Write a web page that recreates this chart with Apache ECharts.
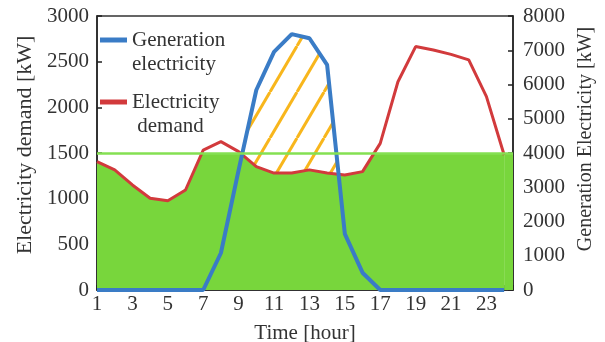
<!DOCTYPE html>
<html>
<head>
<meta charset="utf-8">
<script src="https://cdn.jsdelivr.net/npm/echarts@6/dist/echarts.min.js"></script>
<style>
  html, body { margin: 0; padding: 0; background: #fff; }
  #chart { width: 605px; height: 342px; }
</style>
</head>
<body>
<div id="chart"></div>
<script>
// hours 1..24
const hours = [1, 2, 3, 4, 5, 6, 7, 8, 9, 10, 11, 12, 13, 14, 15, 16, 17, 18, 19, 20, 21, 22, 23, 24]
// electricity demand, left axis [kW]
const demand = [1405, 1315, 1150, 1005, 978, 1095, 1532, 1625, 1515, 1350, 1280, 1280,
  1315, 1280, 1260, 1296, 1605, 2280, 2665, 2628, 2580, 2520, 2117, 1478]
// generation electricity, right axis [kW]
const generation = [0, 0, 0, 0, 0, 0, 0, 1080, 3500, 5840, 6950, 7470,
  7350, 6570, 1640, 505, 0, 0, 0, 0, 0, 0, 0, 0]
// contracted level drawn as the green line
const threshold = 1500
const xMax = 24.5

const FONT = "'Liberation Serif', 'Times New Roman', serif"
const GREEN = '#78d63c'
const RED = '#d23a3c'
const BLUE = '#3a7cc6'

// diagonal orange hatch pattern
function hatchCanvas() {
  const w = 27, h = 46
  const c = document.createElement('canvas')
  c.width = w
  c.height = h
  const ctx = c.getContext('2d')
  ctx.strokeStyle = '#f8b61c'
  ctx.lineWidth = 3
  for (let k = -1; k <= 1; k++) {
    ctx.beginPath()
    ctx.moveTo(k * w, h)
    ctx.lineTo(k * w + w, 0)
    ctx.stroke()
  }
  return c
}

const pairs = (ys) => hours.map((h, i) => [h, ys[i]])

// area under demand: green below the threshold, white above it
const maxDemand = Math.max(...demand)
const cut = (maxDemand - threshold) / maxDemand
const demandFill = new echarts.graphic.LinearGradient(0, 0, 0, 1, [
  {offset: 0, color: '#fff'},
  {offset: cut, color: '#fff'},
  {offset: cut, color: GREEN},
  {offset: 1, color: GREEN}
])

const labelStyle = {color: '#333', fontFamily: FONT, fontSize: 21}
const legendText = {color: '#333', fontFamily: FONT, fontSize: 21, lineHeight: 24}

let myChart = echarts.init(document.getElementById('chart'))
myChart.setOption({
  animation: false,
  grid: {
    left: 97,
    right: 92,
    top: 16,
    bottom: 52,
    outerBoundsMode: 'none',
    containLabel: false,
    show: true,
    borderColor: '#333',
    borderWidth: 1.5
  },
  legend: [{
    data: ['Generation electricity'],
    left: 100,
    top: 4,
    padding: 0,
    icon: 'rect',
    itemWidth: 27,
    itemHeight: 5,
    // empty first line keeps the icon level with the first text line
    formatter: (n) => '\n' + n.replace(' ', '\n'),
    textStyle: legendText
  }, {
    data: ['Electricity demand'],
    left: 100,
    top: 66,
    padding: 0,
    icon: 'rect',
    itemWidth: 27,
    itemHeight: 5,
    formatter: (n) => '\n' + n.replace(' ', '\n '),
    textStyle: legendText
  }],
  xAxis: {
    type: 'value',
    min: 1,
    max: xMax,
    interval: 1,
    name: 'Time [hour]',
    nameLocation: 'middle',
    nameGap: 33,
    nameTextStyle: labelStyle,
    axisLine: {lineStyle: {color: '#222', width: 1.5}},
    axisTick: {inside: true, length: 5, lineStyle: {color: '#222', width: 1.5}},
    axisLabel: Object.assign({
      margin: 4,
      formatter: (v) => (v % 2 === 1 && v < 24 ? String(v) : '')
    }, labelStyle),
    splitLine: {show: false}
  },
  yAxis: [{
    type: 'value',
    min: 0,
    max: 3000,
    interval: 500,
    name: 'Electricity demand [kW]',
    nameLocation: 'middle',
    nameRotate: 90,
    nameGap: 58,
    nameTextStyle: Object.assign({}, labelStyle, {fontSize: 22, padding: [0, 0, 0, 16]}),
    axisLine: {show: true, lineStyle: {color: '#222', width: 1.5}},
    axisTick: {inside: true, length: 5, lineStyle: {color: '#222', width: 1.5}},
    axisLabel: Object.assign({margin: 8, formatter: (v) => String(v)}, labelStyle),
    splitLine: {show: false}
  }, {
    type: 'value',
    min: 0,
    max: 8000,
    interval: 1000,
    name: 'Generation Electricity [kW]',
    nameLocation: 'middle',
    nameRotate: 90,
    nameGap: 60,
    nameTextStyle: Object.assign({}, labelStyle, {fontSize: 20, padding: [0, 0, 0, 28]}),
    axisLine: {show: true, lineStyle: {color: '#222', width: 1.5}},
    axisTick: {inside: true, length: 5, lineStyle: {color: '#222', width: 1.5}},
    axisLabel: Object.assign({margin: 10, formatter: (v) => String(v)}, labelStyle),
    splitLine: {show: false}
  }],
  series: [{
    // hatched surplus: under generation, later covered below demand
    name: 'surplus',
    type: 'line',
    yAxisIndex: 1,
    data: pairs(generation),
    symbol: 'none',
    silent: true,
    lineStyle: {width: 0},
    areaStyle: {color: {image: hatchCanvas(), repeat: 'repeat'}, opacity: 1},
    z: 1
  }, {
    name: 'demandArea',
    type: 'line',
    yAxisIndex: 0,
    data: pairs(demand),
    symbol: 'none',
    silent: true,
    lineStyle: {width: 0},
    areaStyle: {color: demandFill, opacity: 1},
    markArea: {
      silent: true,
      itemStyle: {color: GREEN},
      data: [[{coord: [hours[hours.length - 1], 0]}, {coord: [xMax, threshold]}]]
    },
    markLine: {
      silent: true,
      symbol: 'none',
      label: {show: false},
      lineStyle: {color: '#84e052', width: 2.5, type: 'solid'},
      data: [{yAxis: threshold}]
    },
    z: 2
  }, {
    name: 'Electricity demand',
    type: 'line',
    yAxisIndex: 0,
    data: pairs(demand),
    symbol: 'none',
    color: RED,
    lineStyle: {color: RED, width: 3},
    z: 3
  }, {
    name: 'Generation electricity',
    type: 'line',
    yAxisIndex: 1,
    data: pairs(generation),
    symbol: 'none',
    color: BLUE,
    lineStyle: {color: BLUE, width: 4},
    z: 4
  }]
})
</script>
</body>
</html>
